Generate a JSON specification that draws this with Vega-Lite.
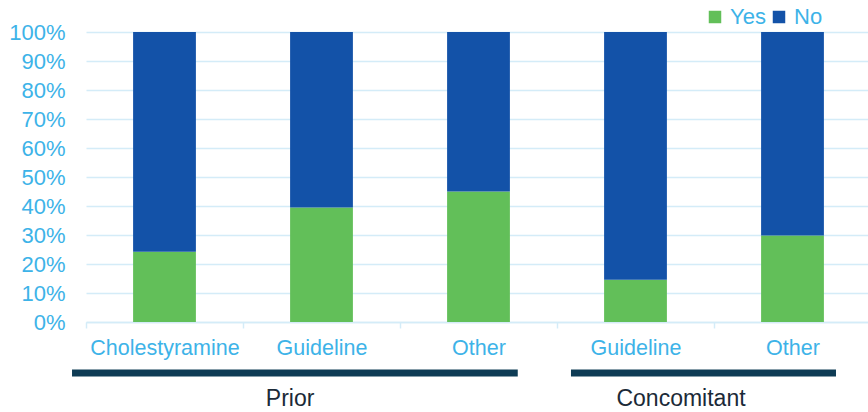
{
  "$schema": "https://vega.github.io/schema/vega-lite/v6.json",
  "autosize": {"type": "none"},
  "padding": {"left": 86, "top": 32, "right": 0, "bottom": 90},
  "width": 785,
  "height": 290,
  "background": "white",
  "config": {
    "view": {"stroke": null},
    "font": "Liberation Sans",
    "axisX": {
      "title": null,
      "labelAngle": 0,
      "labelExpr": "split(datum.value, '|')[1]",
      "labelFontSize": 21.5,
      "labelColor": "#3db3e8",
      "labelPadding": 9,
      "labelOverlap": false,
      "tickBand": "extent",
      "tickColor": "#d4ecf8",
      "tickSize": 6,
      "tickWidth": 1.5,
      "domainColor": "#d4ecf8",
      "domainWidth": 1.5,
      "grid": false
    },
    "axisY": {
      "title": null,
      "tickCount": 10,
      "labelOverlap": false,
      "labelFontSize": 22,
      "labelColor": "#3db3e8",
      "labelPadding": 21,
      "ticks": false,
      "domain": false,
      "gridColor": "#d4ecf8",
      "gridWidth": 1.5
    }
  },
  "datasets": {
    "bars": [
      {"key": "Prior|Cholestyramine", "response": "Yes", "value": 24.2},
      {"key": "Prior|Cholestyramine", "response": "No", "value": 75.8},
      {"key": "Prior|Guideline", "response": "Yes", "value": 39.5},
      {"key": "Prior|Guideline", "response": "No", "value": 60.5},
      {"key": "Prior|Other", "response": "Yes", "value": 45.0},
      {"key": "Prior|Other", "response": "No", "value": 55.0},
      {"key": "Concomitant|Guideline", "response": "Yes", "value": 14.6},
      {"key": "Concomitant|Guideline", "response": "No", "value": 85.4},
      {"key": "Concomitant|Other", "response": "Yes", "value": 29.8},
      {"key": "Concomitant|Other", "response": "No", "value": 70.2}
    ],
    "groups": [
      {"group": "Prior"},
      {"group": "Concomitant"}
    ]
  },
  "layer": [
    {
      "data": {"name": "bars"},
      "mark": {"type": "bar", "width": {"band": 0.4}},
      "encoding": {
        "x": {
          "field": "key",
          "type": "nominal",
          "sort": null,
          "scale": {"paddingInner": 0, "paddingOuter": 0}
        },
        "y": {
          "field": "value",
          "type": "quantitative",
          "stack": "normalize",
          "scale": {"domain": [0, 1], "nice": false},
          "axis": {"format": ".0%"}
        },
        "color": {
          "field": "response",
          "type": "nominal",
          "scale": {"domain": ["Yes", "No"], "range": ["#62bf59", "#1352a8"]},
          "legend": {
            "title": null,
            "orient": "none",
            "direction": "horizontal",
            "legendX": 618,
            "legendY": -26,
            "symbolType": "square",
            "symbolSize": 156,
            "symbolStrokeWidth": 0,
            "symbolOpacity": 1,
            "labelFontSize": 22,
            "labelColor": "#3db3e8",
            "labelOffset": 4,
            "columnPadding": 2
          }
        },
        "order": {"field": "response", "sort": "descending"}
      }
    },
    {
      "data": {"name": "groups"},
      "transform": [{"filter": "datum.group == 'Prior'"}],
      "mark": {"type": "rule", "clip": false, "color": "#0e3c55", "strokeWidth": 7},
      "encoding": {
        "x": {"datum": "Prior|Cholestyramine", "type": "nominal", "bandPosition": -0.089},
        "x2": {"datum": "Prior|Other", "bandPosition": 0.75},
        "y": {"datum": -0.176, "type": "quantitative"}
      }
    },
    {
      "data": {"name": "groups"},
      "transform": [{"filter": "datum.group == 'Concomitant'"}],
      "mark": {"type": "rule", "clip": false, "color": "#0e3c55", "strokeWidth": 7},
      "encoding": {
        "x": {"datum": "Concomitant|Guideline", "type": "nominal", "bandPosition": 0.089},
        "x2": {"datum": "Concomitant|Other", "bandPosition": 0.777},
        "y": {"datum": -0.176, "type": "quantitative"}
      }
    },
    {
      "data": {"name": "groups"},
      "transform": [{"filter": "datum.group == 'Prior'"}],
      "mark": {"type": "text", "clip": false, "color": "#1b2a38", "fontSize": 23, "baseline": "middle"},
      "encoding": {
        "x": {"datum": "Prior|Guideline", "type": "nominal", "bandPosition": 0.3},
        "y": {"datum": -0.264, "type": "quantitative"},
        "text": {"field": "group"}
      }
    },
    {
      "data": {"name": "groups"},
      "transform": [{"filter": "datum.group == 'Concomitant'"}],
      "mark": {"type": "text", "clip": false, "color": "#1b2a38", "fontSize": 23, "baseline": "middle"},
      "encoding": {
        "x": {"datum": "Concomitant|Guideline", "type": "nominal", "bandPosition": 0.79},
        "y": {"datum": -0.264, "type": "quantitative"},
        "text": {"field": "group"}
      }
    }
  ]
}
